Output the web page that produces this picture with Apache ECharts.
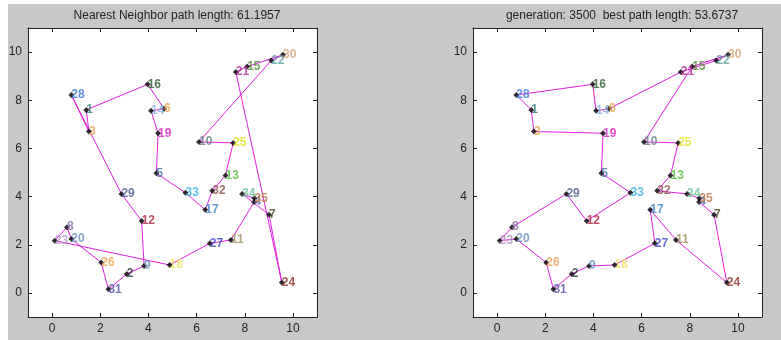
<!DOCTYPE html>
<html>
<head>
<meta charset="utf-8">
<script src="https://cdn.jsdelivr.net/npm/echarts@6/dist/echarts.min.js"></script>
<style>
html, body { margin: 0; padding: 0; background: #fff; }
#main { position: absolute; left: 0; top: 0; width: 781px; height: 340px; }
</style>
</head>
<body>
<div id="main"></div>
<script>
// city ids and coordinates
var cityIds = [1, 2, 3, 4, 5, 6, 7, 8, 9, 10, 11, 12, 13, 14, 15, 16, 17, 18,
               19, 20, 21, 22, 23, 24, 25, 26, 27, 28, 29, 30, 31, 32, 33, 34, 35];
var cityX = [1.42, 3.10, 1.53, 8.39, 4.33, 4.65, 9.01, 0.62, 3.82, 6.10, 7.43, 3.72,
             7.20, 4.11, 8.10, 3.97, 6.36, 4.88, 4.40, 0.80, 7.63, 9.10, 0.11, 9.54,
             7.52, 2.04, 6.55, 0.80, 2.88, 9.59, 2.34, 6.65, 5.54, 7.89, 8.40];
var cityY = [7.60, 0.79, 6.70, 3.77, 4.97, 7.65, 3.25, 2.73, 1.12, 6.27, 2.20, 2.99,
             4.88, 7.56, 9.40, 8.66, 3.45, 1.16, 6.63, 2.24, 9.17, 9.65, 2.17, 0.43,
             6.23, 1.26, 2.06, 8.22, 4.11, 9.89, 0.15, 4.24, 4.16, 4.11, 3.93];
var labelColors = ['#2e7c7c', '#2f3a44', '#e2a24e', '#5a6fb4', '#3d6ea6', '#eba046', '#4e4422',
                   '#8a6aa0', '#6b8cb6', '#687888', '#a09060', '#b2203e', '#52c032', '#84aad8',
                   '#5a8c3c', '#2a5a2a', '#3a82c2', '#f0e060', '#d21ec4', '#6a8cbc', '#b02892',
                   '#5c9c9c', '#b494c4', '#8c2a2a', '#e2e21e', '#f0a252', '#4242d2', '#3a7ada',
                   '#4a5a8c', '#d4a474', '#5050a2', '#8c4c4c', '#30b2e2', '#64c494', '#c27242'];

// tours (city ids), closed loops
var nnTour = [1, 16, 6, 14, 19, 5, 33, 17, 32, 13, 25, 10, 22, 30, 15, 21, 24, 7, 34, 35, 4,
              11, 27, 18, 23, 8, 20, 26, 31, 2, 9, 12, 29, 28, 3];
var gaTour = [28, 16, 14, 6, 21, 22, 30, 15, 10, 25, 13, 32, 34, 35, 4, 7, 24, 11, 17, 27,
              18, 9, 2, 31, 26, 20, 23, 8, 29, 12, 33, 5, 19, 3, 1];

var titles = ['Nearest Neighbor path length: 61.1957',
              'generation: 3500  best path length: 53.6737'];
var tickValues = [0, 2, 4, 6, 8, 10];

var chart = echarts.init(document.getElementById('main'));

function tourPoints(tour) {
    var pts = [];
    for (var i = 0; i <= tour.length; i++) {
        var k = cityIds.indexOf(tour[i % tour.length]);
        pts.push([cityX[k], cityY[k]]);
    }
    return pts;
}

function cityPoints() {
    var pts = [];
    for (var i = 0; i < cityIds.length; i++) {
        pts.push({
            value: [cityX[i], cityY[i]],
            name: String(cityIds[i]),
            label: { color: labelColors[i] }
        });
    }
    return pts;
}

function makeAxis(pos, idx, showLabel) {
    return {
        type: 'value', position: pos, gridIndex: idx,
        min: -1, max: 11,
        axisLine: { show: true, onZero: false, lineStyle: { color: '#222', width: 1 } },
        axisTick: { show: true, inside: true, length: 4, customValues: tickValues,
                    lineStyle: { color: '#222' } },
        axisLabel: { show: showLabel, customValues: tickValues, color: '#222', fontSize: 12,
                     fontFamily: 'Liberation Sans', margin: 6 },
        splitLine: { show: false }
    };
}

var grids = [
    { left: 28, top: 28, width: 289, height: 289, backgroundColor: '#fff', show: true, borderWidth: 0 },
    { left: 473, top: 28, width: 289, height: 289, backgroundColor: '#fff', show: true, borderWidth: 0 }
];
var xAxes = [], yAxes = [], series = [];
var tours = [nnTour, gaTour];
for (var g = 0; g < 2; g++) {
    xAxes.push(makeAxis('bottom', g, true));
    xAxes.push(makeAxis('top', g, false));
    yAxes.push(makeAxis('left', g, true));
    yAxes.push(makeAxis('right', g, false));
    series.push({
        type: 'line', xAxisIndex: g * 2, yAxisIndex: g * 2,
        data: tourPoints(tours[g]), symbol: 'none', silent: true,
        lineStyle: { color: '#e020e0', width: 1 }
    });
    series.push({
        type: 'scatter', xAxisIndex: g * 2, yAxisIndex: g * 2,
        data: cityPoints(), symbol: 'diamond', symbolSize: 6,
        itemStyle: { color: '#000' },
        label: { show: true, position: 'right', distance: -3, formatter: '{b}',
                 fontSize: 12, fontWeight: 'bold', fontFamily: 'Liberation Sans' },
        z: 3
    });
}

chart.setOption({
    animation: false,
    backgroundColor: 'transparent',
    graphic: [
        { type: 'rect', shape: { x: 8, y: 4, width: 773, height: 336 },
          style: { fill: '#c8c8c8' }, z: -10 }
    ],
    title: [
        { text: titles[0], left: 172, top: 5, textAlign: 'center',
          textStyle: { fontSize: 12, fontWeight: 'normal', color: '#222', fontFamily: 'Liberation Sans' } },
        { text: titles[1], left: 617, top: 5, textAlign: 'center',
          textStyle: { fontSize: 12, fontWeight: 'normal', color: '#222', fontFamily: 'Liberation Sans' } }
    ],
    grid: grids,
    xAxis: xAxes,
    yAxis: yAxes,
    series: series
});
</script>
</body>
</html>
